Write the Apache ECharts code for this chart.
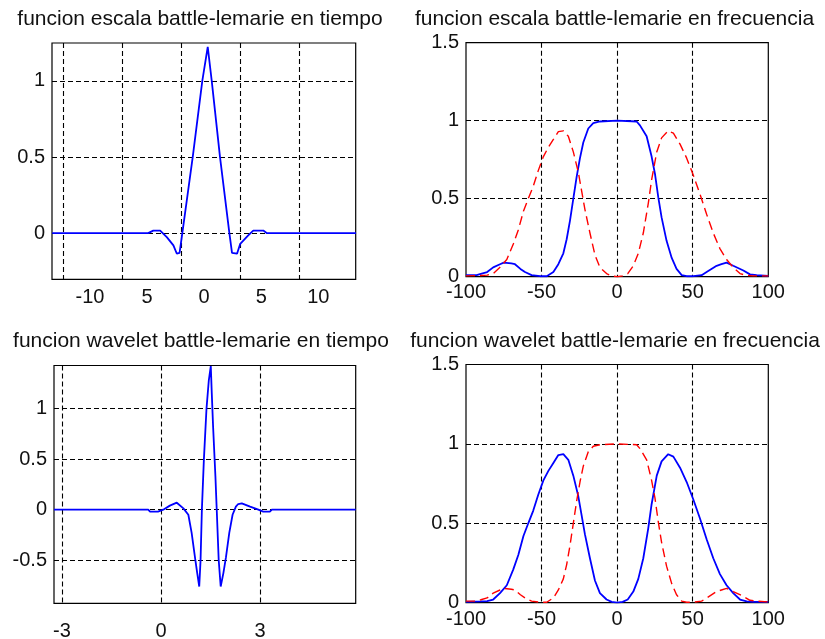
<!DOCTYPE html>
<html><head><meta charset="utf-8">
<script src="https://cdn.jsdelivr.net/npm/echarts@6/dist/echarts.min.js"></script>
<style>html,body{margin:0;padding:0;background:#fff}#c{width:825px;height:639px}</style>
</head><body><div id="c"></div>
<script>
// ---------- titles ----------
const panelTitles = [
  'funcion escala battle-lemarie en tiempo',
  'funcion escala battle-lemarie en frecuencia',
  'funcion wavelet battle-lemarie en tiempo',
  'funcion wavelet battle-lemarie en frecuencia'
];

// ---------- scaling function in time (top-left) ----------
const scaleTimeX = [-13.3, -4.9, -4.45, -3.85, -3.27, -2.69, -2.39, -2.15, -1.91, -1.0, -0.16, 0.315, 0.665, 1.39, 2.21, 2.44, 2.88, 3.16, 3.86, 4.30, 5.18, 5.50, 13.3];
const scaleTimeY = [0, 0, 0.017, 0.017, -0.026, -0.08, -0.135, -0.13, 0, 0.5, 1.0, 1.224, 1.0, 0.5, 0, -0.13, -0.135, -0.07, -0.015, 0.017, 0.017, 0, 0];
const scaleTimeTickValues = [-10, -5, 0, 5, 10];
const scaleTimeTickLabels = ['-10', '5', '0', '5', '10'];

// ---------- wavelet in time (bottom-left) ----------
const waveTimeX = [-3.24, -0.385, -0.33, -0.09, 0.07, 0.27, 0.48, 0.68, 0.83, 0.93, 1.03, 1.10, 1.16, 1.20, 1.24, 1.30, 1.38, 1.45, 1.51, 1.54, 1.58, 1.65, 1.69, 1.75, 1.81, 1.89, 1.97, 2.07, 2.17, 2.27, 2.34, 2.45, 2.70, 2.95, 3.10, 3.30, 3.36, 5.9];
const waveTimeY = [0, 0, -0.02, -0.02, 0, 0.04, 0.069, 0.013, -0.05, -0.23, -0.47, -0.63, -0.76, -0.5, 0, 0.49, 1.0, 1.28, 1.42, 1.15, 0.82, 0.33, 0, -0.5, -0.76, -0.63, -0.47, -0.23, -0.05, 0.03, 0.056, 0.063, 0.03, 0, -0.02, -0.02, 0, 0];
const waveTimeTickLabels = ['-3', '0', '3'];

// ---------- spectra (right column) ----------
const phiFreq = [-100, -93, -89.6, -86, -82, -77.5, -75, -70, -67.6, -64, -61, -56.6, -51, -46.6, -42.2, -38.9, -35.6, -33.4, -31.2, -29, -26.8, -24.6, -22.4, -19.1, -15.8, -11.4, 0, 12.9, 15.1, 19.5, 22.8, 25, 27.2, 29.4, 32.7, 36.1, 39.3, 42.7, 46, 50.4, 55.9, 59.2, 65.8, 69, 72.4, 76.8, 83.5, 87.9, 92.3, 100];
const phiHat = [0.01, 0.01, 0.02, 0.03, 0.06, 0.08, 0.09, 0.085, 0.08, 0.05, 0.03, 0.01, 0.003, 0.003, 0.03, 0.08, 0.15, 0.24, 0.36, 0.5, 0.64, 0.76, 0.86, 0.95, 0.985, 0.995, 1.0, 0.995, 0.97, 0.9, 0.77, 0.66, 0.51, 0.38, 0.23, 0.12, 0.05, 0.01, 0.003, 0.003, 0.01, 0.03, 0.07, 0.08, 0.09, 0.07, 0.04, 0.015, 0.01, 0.005];
const psiFreq = [-100, -90, -86, -82, -77.5, -73, -68.7, -65.4, -62, -58.8, -55.5, -52.2, -48.8, -45.5, -42.2, -38.9, -35.6, -32.3, -29, -25.7, -23.5, -21.3, -18, -14.7, -11.4, -7, -3.6, 0, 3.6, 7, 10.7, 14, 17.3, 20.6, 22.8, 26.2, 29.4, 33.8, 37.2, 41.6, 46, 50.4, 54.8, 59.2, 63.6, 68, 72.4, 76.8, 81.3, 85.7, 90, 100];
const psiHat = [0.005, 0.008, 0.01, 0.02, 0.06, 0.11, 0.21, 0.3, 0.42, 0.5, 0.58, 0.68, 0.77, 0.83, 0.88, 0.93, 0.935, 0.9, 0.8, 0.67, 0.55, 0.43, 0.28, 0.14, 0.06, 0.02, 0.005, 0, 0.005, 0.02, 0.07, 0.15, 0.28, 0.47, 0.62, 0.8, 0.89, 0.935, 0.92, 0.85, 0.76, 0.65, 0.53, 0.4, 0.28, 0.18, 0.11, 0.06, 0.02, 0.008, 0.005, 0.005];
const freqTickLabels = ['-100', '-50', '0', '50', '100'];
const freqYTickLabels = ['0', '0.5', '1', '1.5'];

function zip(xs, ys) { return xs.map((x, i) => [x, ys[i]]); }

const FONT = 'Liberation Sans';
const gridLine = { show: true, showMinLine: false, showMaxLine: false, lineStyle: { color: '#000', width: 1.1, type: [5, 3] } };
const noLine = { show: false };
function lab(extra) {
  return Object.assign({ color: '#111', fontSize: 20, fontFamily: FONT }, extra);
}
function lookupFormatter(values, labels) {
  return function (v) {
    for (let i = 0; i < values.length; i++) if (Math.abs(values[i] - v) < 1e-6) return labels[i];
    return '';
  };
}

const chart = echarts.init(document.getElementById('c'), null, { renderer: 'canvas' });
chart.setOption({
  animation: false,
  backgroundColor: '#fff',
  textStyle: { fontFamily: FONT },
  title: panelTitles.map((t, i) => ({
    text: t,
    left: [200, 614.5, 201, 615][i],
    top: [9, 9, 330.5, 330.5][i],
    textAlign: 'center',
    padding: 0,
    textStyle: { color: '#111', fontSize: 21, fontWeight: 'normal', fontFamily: FONT }
  })),
  grid: [
    { left: 52, top: 43, width: 303.7, height: 236.3 },
    { left: 466, top: 42.7, width: 302.3, height: 234 },
    { left: 54, top: 365.5, width: 301.7, height: 237.8 },
    { left: 466, top: 364.5, width: 302.3, height: 238.2 }
  ].map(g => Object.assign({ show: true, borderColor: '#000', borderWidth: 1.2, backgroundColor: 'transparent', outerBoundsMode: 'none' }, g)),
  xAxis: [
    { gridIndex: 0, type: 'value', min: -13.32, max: 13.27, minInterval: 5, maxInterval: 5,
      axisLine: noLine, axisTick: noLine, splitLine: noLine,
      axisLabel: lab({ margin: 8, showMinLabel: false, showMaxLabel: false, formatter: lookupFormatter(scaleTimeTickValues, scaleTimeTickLabels) }) },
    { gridIndex: 0, type: 'value', min: -2.186, max: 2.961, minInterval: 1, maxInterval: 1,
      axisLine: noLine, axisTick: noLine, axisLabel: noLine, splitLine: gridLine },
    { gridIndex: 1, type: 'value', min: -100, max: 100, interval: 50,
      axisLine: noLine, axisTick: noLine, splitLine: gridLine,
      axisLabel: lab({ margin: 6, formatter: lookupFormatter([-100, -50, 0, 50, 100], freqTickLabels) }) },
    { gridIndex: 2, type: 'value', min: -3.24, max: 5.9, minInterval: 3, maxInterval: 3,
      axisLine: noLine, axisTick: noLine, splitLine: gridLine,
      axisLabel: lab({ margin: 18, showMinLabel: false, showMaxLabel: false, formatter: lookupFormatter([-3, 0, 3], waveTimeTickLabels) }) },
    { gridIndex: 3, type: 'value', min: -100, max: 100, interval: 50,
      axisLine: noLine, axisTick: noLine, splitLine: gridLine,
      axisLabel: lab({ margin: 7, formatter: lookupFormatter([-100, -50, 0, 50, 100], freqTickLabels) }) }
  ],
  yAxis: [
    { gridIndex: 0, type: 'value', min: -0.303, max: 1.249, minInterval: 0.5, maxInterval: 0.5,
      axisLine: noLine, axisTick: noLine, splitLine: gridLine,
      axisLabel: lab({ margin: 7, showMinLabel: false, showMaxLabel: false }) },
    { gridIndex: 1, type: 'value', min: 0, max: 1.5, interval: 0.5,
      axisLine: noLine, axisTick: noLine, splitLine: gridLine,
      axisLabel: lab({ margin: 7, formatter: lookupFormatter([0, 0.5, 1, 1.5], freqYTickLabels) }) },
    { gridIndex: 2, type: 'value', min: -0.926, max: 1.426, minInterval: 0.5, maxInterval: 0.5,
      axisLine: noLine, axisTick: noLine, splitLine: gridLine,
      axisLabel: lab({ margin: 7, showMinLabel: false, showMaxLabel: false }) },
    { gridIndex: 3, type: 'value', min: 0, max: 1.5, interval: 0.5,
      axisLine: noLine, axisTick: noLine, splitLine: gridLine,
      axisLabel: lab({ margin: 7, formatter: lookupFormatter([0, 0.5, 1, 1.5], freqYTickLabels) }) }
  ],
  series: [
    { type: 'line', xAxisIndex: 0, yAxisIndex: 0, data: zip(scaleTimeX, scaleTimeY), showSymbol: false, lineStyle: { color: '#0000ff', width: 1.8 }, itemStyle: { color: '#0000ff' } },
    { type: 'line', xAxisIndex: 2, yAxisIndex: 1, data: zip(phiFreq, phiHat), showSymbol: false, lineStyle: { color: '#0000ff', width: 1.8 }, itemStyle: { color: '#0000ff' } },
    { type: 'line', xAxisIndex: 2, yAxisIndex: 1, data: zip(psiFreq, psiHat), showSymbol: false, lineStyle: { color: '#ff0000', width: 1.4, type: [9, 5] }, itemStyle: { color: '#ff0000' } },
    { type: 'line', xAxisIndex: 3, yAxisIndex: 2, data: zip(waveTimeX, waveTimeY), showSymbol: false, lineStyle: { color: '#0000ff', width: 1.8 }, itemStyle: { color: '#0000ff' } },
    { type: 'line', xAxisIndex: 4, yAxisIndex: 3, data: zip(psiFreq, psiHat), showSymbol: false, lineStyle: { color: '#0000ff', width: 1.8 }, itemStyle: { color: '#0000ff' } },
    { type: 'line', xAxisIndex: 4, yAxisIndex: 3, data: zip(phiFreq, phiHat), showSymbol: false, lineStyle: { color: '#ff0000', width: 1.4, type: [9, 5] }, itemStyle: { color: '#ff0000' } }
  ]
});
</script></body></html>
